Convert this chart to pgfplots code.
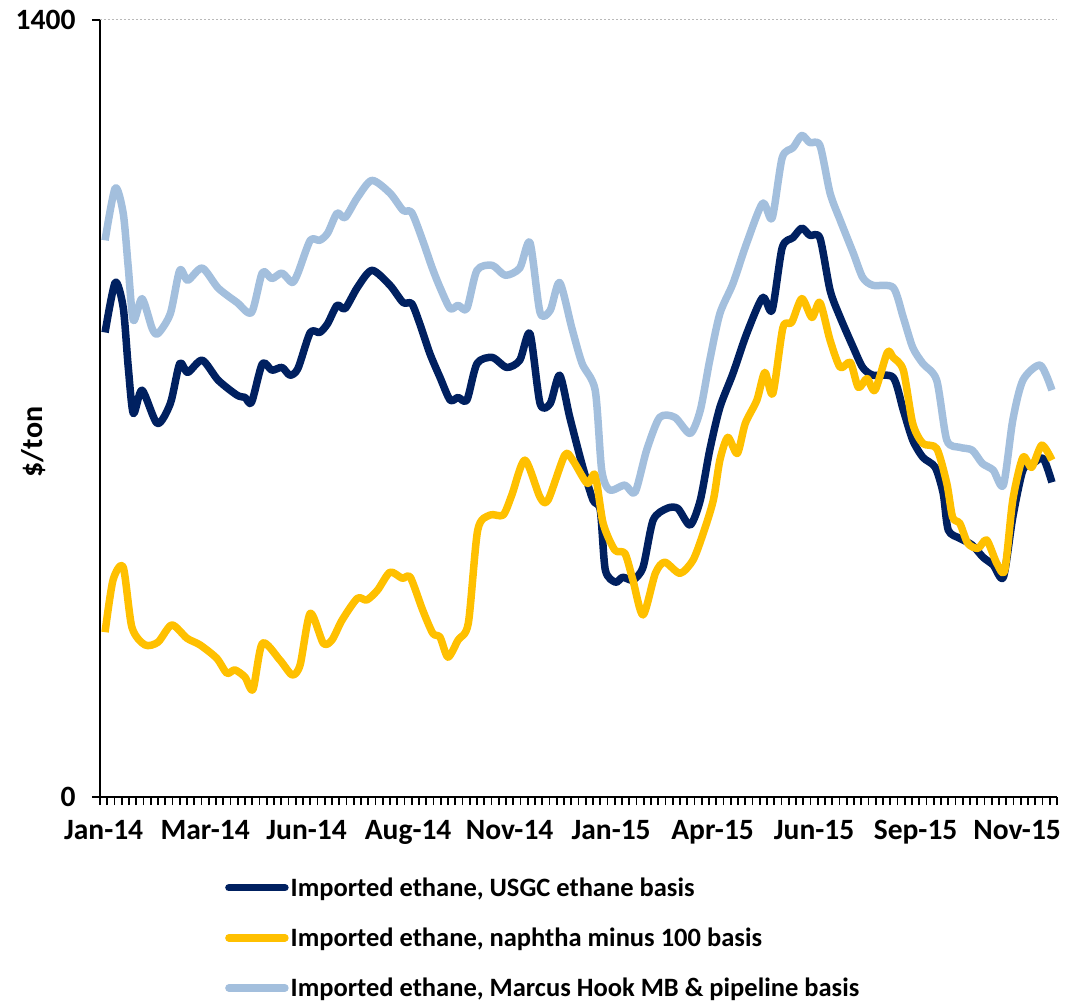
\documentclass[border=0pt]{standalone}
\usepackage{fontspec}
\setmainfont{Carlito}
\usepackage{pgfplots}
\pgfplotsset{compat=1.18}
\definecolor{usgc}{RGB}{0,32,96}
\definecolor{naph}{RGB}{255,192,0}
\definecolor{mh}{RGB}{163,191,221}

\pgfplotstableread{
x y
0.2 837
1.6 927
2.7 882
3.4 774
4.1 691
5.3 733
7.4 673
9.2 709
10.5 781
11.6 765
13.6 787
15.8 751
18.4 724
19.5 720
20.4 711
21.9 781
23.2 769
24.6 774
25.7 760
26.8 772
28.5 837
29.8 837
30.9 853
32.2 886
33.3 880
35.0 918
37.0 949
39.5 922
41.3 891
42.5 889
43.6 853
45.0 799
46.4 756
47.8 715
48.9 720
50.1 715
51.5 781
53.6 792
55.6 774
57.4 787
58.8 835
60.2 709
61.6 709
62.9 760
64.3 684
66.1 594
67.5 535
68.5 517
69.2 409
70.6 387
71.6 396
73.0 391
74.4 414
75.8 499
77.7 520
79.2 520
80.9 490
82.3 535
83.6 625
85.0 702
86.8 763
88.7 835
90.9 900
92.2 877
93.6 990
95.1 1008
96.3 1025
97.4 1012
98.8 1007
100.2 913
101.6 864
103.4 810
104.7 774
106.1 760
108.9 756
110.3 697
111.6 643
113.0 612
114.7 594
115.8 547
116.5 481
118.1 466
119.8 454
121.3 432
122.7 418
124.1 396
125.4 504
126.8 589
128.2 601
129.6 610
130.8 567
}\usgcdata

\pgfplotstableread{
x y
0.2 297
1.3 391
2.7 414
3.9 306
5.7 274
7.5 279
9.4 310
11.5 286
13.3 274
15.6 250
17.0 223
18.1 229
19.5 216
20.6 194
21.9 277
24.3 247
26.0 220
27.1 238
28.5 331
30.3 277
31.5 283
32.9 319
35.0 358
36.3 355
37.8 373
39.5 405
41.2 394
42.3 396
44.0 337
45.4 295
46.4 288
47.5 252
48.9 283
50.3 313
51.6 481
53.3 508
55.1 508
56.3 544
58.1 607
60.2 540
61.3 535
63.6 616
64.7 607
66.7 565
67.8 580
68.9 493
70.5 445
71.9 439
73.0 391
74.4 328
76.1 403
77.4 423
79.5 403
81.3 427
82.7 475
84.1 535
85.0 607
86.1 648
87.4 619
88.5 673
90.1 715
91.2 765
92.3 727
93.7 846
94.9 855
96.3 898
97.7 864
98.8 891
100.2 823
101.6 774
103.0 783
104.1 738
105.3 754
106.4 733
108.1 801
108.9 792
110.3 769
111.6 673
113.0 637
114.9 628
116.3 565
117.1 504
118.1 493
119.2 457
120.6 448
121.8 463
123.2 421
124.3 409
125.4 535
126.8 612
128.0 594
129.4 634
130.8 607
}\naphdata

\pgfplotstableread{
x y
0.2 1003
1.6 1097
2.7 1052
3.4 954
4.1 859
5.3 898
6.7 844
7.5 835
9.2 871
10.5 949
11.6 931
13.6 953
15.8 917
18.4 891
20.4 873
21.9 945
23.2 934
24.6 944
26.0 927
26.8 944
28.5 1003
29.8 1003
30.9 1016
32.2 1052
33.3 1044
35.0 1080
37.0 1111
39.5 1088
41.3 1057
42.5 1053
44.0 1003
45.3 954
46.4 918
47.8 880
48.9 886
50.1 880
51.5 949
53.6 958
55.4 940
57.4 953
58.8 999
60.2 873
61.6 877
62.9 927
64.6 844
66.0 781
67.8 733
68.7 589
69.8 553
71.9 562
73.3 549
74.9 625
76.7 684
78.8 684
80.9 655
82.3 697
83.6 787
85.0 871
86.8 925
88.7 998
90.9 1070
92.2 1043
93.6 1152
95.1 1170
96.3 1192
97.4 1179
98.8 1174
100.2 1088
101.6 1039
103.4 980
104.7 936
106.1 922
108.9 918
110.3 864
111.6 810
113.0 781
114.9 751
116.3 643
118.1 630
119.8 625
121.2 601
122.7 589
124.1 562
125.4 679
126.8 751
129.2 778
130.8 733
}\mhdata

\begin{document}
\begin{tikzpicture}
\path[use as bounding box] (-100pt,-204pt) rectangle (981pt,797pt);
\begin{axis}[
  at={(0pt,0pt)}, anchor=south west,
  scale only axis, width=957pt, height=777pt,
  xmin=-0.5, xmax=131.5, ymin=0, ymax=1400,
  axis x line*=bottom, axis y line*=left,
  axis line style={line width=2.2pt, -},
  ytick={0,1400},
  ymajorgrids,
  grid style={gray!55, line width=1pt, dash pattern=on 2pt off 2pt},
  xtick={0,14,...,126},
  xticklabels={Jan-14,Mar-14,Jun-14,Aug-14,Nov-14,Jan-15,Apr-15,Jun-15,Sep-15,Nov-15},
  minor xtick={-0.5,0.5,...,131.5},
  major x tick style={draw=none},
  minor x tick style={line width=1.6pt, black},
  major y tick style={line width=2pt, black},
  tick align=outside,
  major tick length=8pt, minor tick length=8pt,
  tick label style={font=\fontsize{29.5}{31}\selectfont\bfseries},
  xticklabel style={yshift=-12pt},
  yticklabel style={xshift=-13pt},
  /pgf/number format/assume math mode=true,
  /pgf/number format/1000 sep={},
  legend style={at={(axis description cs:0.1306,-0.101)}, anchor=north west,
    draw=none, fill=none, inner sep=0pt, row sep=26pt,
    font=\fontsize{26.5}{28}\selectfont\bfseries,
    nodes={inner xsep=2pt}},
  legend cell align=left,
  legend image code/.code={\draw[#1, line cap=round] (0pt,0pt) -- (56pt,0pt);},
  every axis plot/.append style={line width=7.5pt, smooth, tension=0.45, line join=round},
]
\addplot[usgc] table {\usgcdata};
\addlegendentry{Imported ethane, USGC ethane basis}
\addplot[naph] table {\naphdata};
\addlegendentry{Imported ethane, naphtha minus 100 basis}
\addplot[mh] table {\mhdata};
\addlegendentry{Imported ethane, Marcus Hook MB \& pipeline basis}
\end{axis}
\node[rotate=90, font=\fontsize{30}{32}\selectfont\bfseries] at (-66pt,355pt) {\$/ton};
\end{tikzpicture}
\end{document}
